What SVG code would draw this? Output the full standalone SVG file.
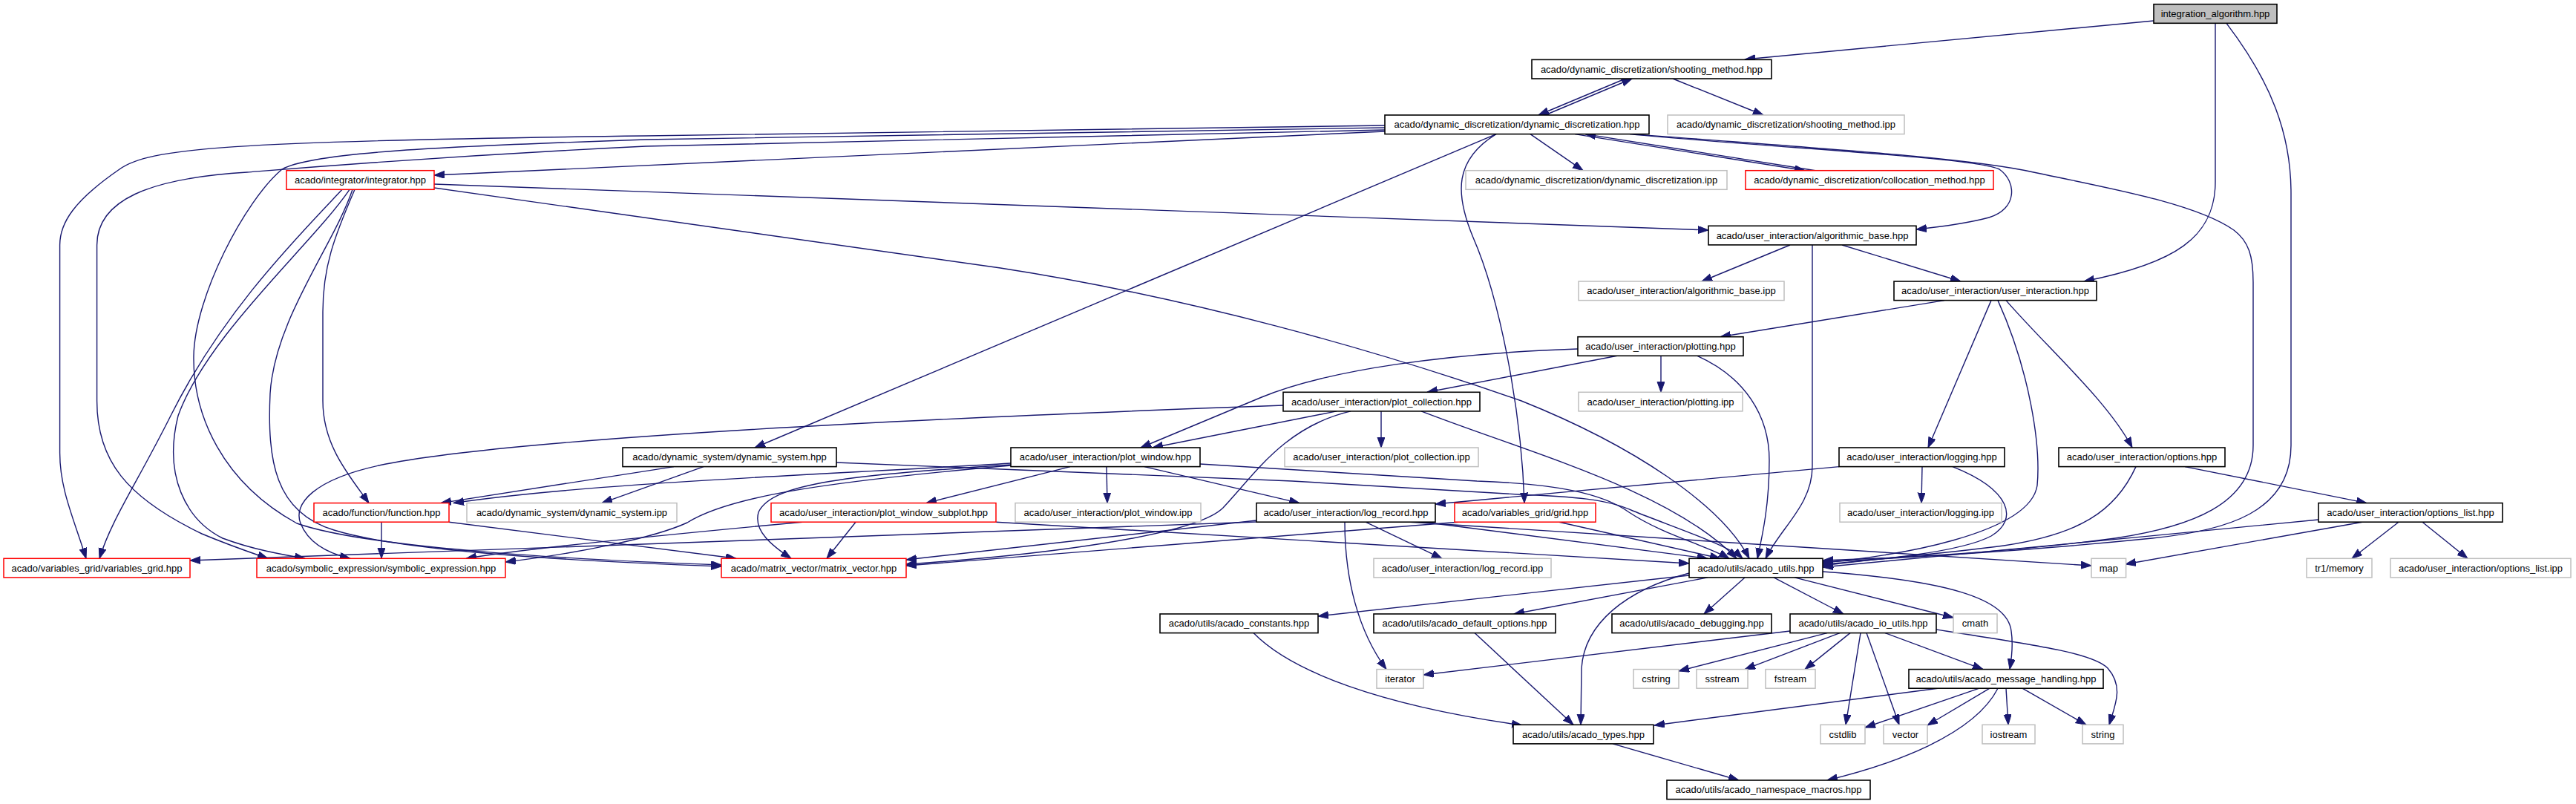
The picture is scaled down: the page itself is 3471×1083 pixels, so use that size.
<svg xmlns="http://www.w3.org/2000/svg" width="3471" height="1083" viewBox="0 0 3471 1083">
<defs>
<style>
.n rect{fill:#fff;stroke:#000;stroke-width:1.6}
.g rect{fill:#fff;stroke:#bfbfbf;stroke-width:1.5}
.r rect{fill:#fff;stroke:#ff0000;stroke-width:1.5}
.root rect{fill:#bfbfbf;stroke:#000;stroke-width:1.6}
text{font-family:"Liberation Sans",Arial,Helvetica,sans-serif;font-size:13px;text-anchor:middle;fill:#000}
.e{fill:none;stroke:#191970;stroke-width:1.4;marker-end:url(#arr)}
</style>
<marker id="arr" markerUnits="userSpaceOnUse" markerWidth="16" markerHeight="12" refX="14" refY="5" orient="auto">
<path d="M0,0 L14,5 L0,10 z" fill="#191970" stroke="#191970" stroke-width="1"/>
</marker>
</defs>
<rect width="3471" height="1083" fill="#fff"/>
<g id="edges">
<path class="e" d="M2902,28 L2351,80"/>
<path class="e" d="M2985,31.3 L2985,245 C2985,320 2930,355 2808,379"/>
<path class="e" d="M3000,31.3 C3060,110 3087,180 3087,260 L3087,600 C3087,690 3000,715 2900,725 C2700,745 2550,752 2456,757"/>
<path class="e" d="M2190,106 L2073,155"/>
<path class="e" d="M2254,106 L2376,155"/>
<path class="e" d="M2082,155 L2199,106"/>
<path class="e" d="M2062,180.6 L2133,229.7"/>
<path class="e" d="M2122,180.6 L2432,229.7"/>
<path class="e" d="M2446,229.7 L2136,180.6"/>
<path class="e" d="M2196,180.6 C2400,200 2660,212 2694,228 C2718,245 2718,282 2680,293 C2650,301 2620,305 2582,309"/>
<path class="e" d="M2201,180.6 C2450,200 2650,212 2740,232 C2850,255 2960,275 3010,310 C3030,325 3036,345 3036,380 L3036,600 C3036,680 2950,710 2850,725 C2700,745 2550,752 2456,755"/>
<path class="e" d="M1866,177 L585,236"/>
<path class="e" d="M1866,169 L870,183 C300,190 200,200 161,228 C100,270 80.6,300 80.6,330 L80.6,610 C80.6,660 100,700 116,752.3"/>
<path class="e" d="M1866,172 L870,188 C600,197 420,205 380,228 C330,270 262,400 261,480 C260,560 300,650 400,705 C500,740 800,755 972,761"/>
<path class="e" d="M1866,175 L870,197 C600,210 420,225 333,232 C200,240 130.6,270 130.6,330 L130.6,540 C130.6,620 170,670 272,719 C310,735 340,745 361,752.3"/>
<path class="e" d="M2016,180.6 L1017,603"/>
<path class="e" d="M2016,180.6 C1960,215 1960,260 1985,320 C2020,400 2050,550 2054,677.6"/>
<path class="e" d="M585,248 L2302,310"/>
<path class="e" d="M585,253 L1348,361 C1600,400 1850,470 2050,540 C2200,600 2320,680 2357,752.3"/>
<path class="e" d="M461,255.3 C400,320 300,420 230,560 C185,650 150,700 134,752.3"/>
<path class="e" d="M471,255.3 C420,330 280,450 240,560 C220,640 250,700 300,725 C340,740 380,747 411,752.3"/>
<path class="e" d="M475,255.3 C450,330 370,430 364,530 C360,620 370,690 450,714 C550,745 800,757 972,763"/>
<path class="e" d="M478,255.3 C450,320 435,360 435,420 L435,540 C435,600 470,640 497,677.6"/>
<path class="e" d="M2412,330 L2293,379"/>
<path class="e" d="M2442,330 L2442,628 C2442,680 2400,710 2379,752.3"/>
<path class="e" d="M2482,330 L2642,379"/>
<path class="e" d="M2620,404.6 L2318,453.7"/>
<path class="e" d="M2683,404.6 L2598,603"/>
<path class="e" d="M2692,404.6 C2735,500 2750,600 2745,654 C2735,720 2550,750 2456,758"/>
<path class="e" d="M2703,404.6 C2760,470 2840,540 2873,603"/>
<path class="e" d="M2238,479.3 L2238,528.3"/>
<path class="e" d="M2179,479.3 L1923,528.3"/>
<path class="e" d="M2126,470 C1950,476 1790,498 1700,535 C1640,560 1580,585 1537,603"/>
<path class="e" d="M2287,479.3 C2351,508 2384,560 2384,620 C2384,680 2375,720 2368,752.3"/>
<path class="e" d="M1861,553.9 L1861,603"/>
<path class="e" d="M1801,553.9 L1553,603"/>
<path class="e" d="M1915,553.9 C2060,610 2250,660 2340,752.3"/>
<path class="e" d="M1820,553.9 C1730,575 1690,640 1648,684 C1610,722 1400,748 1221,760"/>
<path class="e" d="M1729,546 C1200,565 700,590 520,625 C420,645 395,680 405,705 C415,730 440,745 472,752.3"/>
<path class="e" d="M1491,628.6 L1492,677.6"/>
<path class="e" d="M1442,628.6 L1248,677.6"/>
<path class="e" d="M1542,628.6 L1751,677.6"/>
<path class="e" d="M1362,624 C1100,640 800,650 611,677.6"/>
<path class="e" d="M1362,626 C1150,640 1040,650 1022,690 C1015,715 1040,735 1066,752.3"/>
<path class="e" d="M1362,627 C1100,650 980,670 926,704 C880,725 780,745 681,757"/>
<path class="e" d="M1617,625 L1990,648 C2100,652 2160,665 2195,690 C2240,720 2300,735 2330,752.3"/>
<path class="e" d="M1127,623 L1741,648 L2046,666 C2120,669 2165,672 2200,688 C2260,712 2330,735 2348,752.3"/>
<path class="e" d="M908,628.6 L594,677.6"/>
<path class="e" d="M948,628.6 L811,677.6"/>
<path class="e" d="M514,703.2 L514,752.3"/>
<path class="e" d="M605,703.2 L992,752.3"/>
<path class="e" d="M1081,703.2 C900,720 700,740 628,752.3"/>
<path class="e" d="M1153,703.2 L1114,752.3"/>
<path class="e" d="M1342,703.2 L2276,759"/>
<path class="e" d="M1812,703.2 C1812,780 1830,850 1868,901.6"/>
<path class="e" d="M1840,703.2 L1943,752.3"/>
<path class="e" d="M1918,703.2 L2301,752.3"/>
<path class="e" d="M1900,703.2 L2818,762"/>
<path class="e" d="M1693,701 L1221,754"/>
<path class="e" d="M1693,703 L256,755"/>
<path class="e" d="M1965,703.2 L1221,762"/>
<path class="e" d="M2101,703.2 L2318,752.3"/>
<path class="e" d="M2478,628.6 L1934,679"/>
<path class="e" d="M2590,628.6 L2589,677.6"/>
<path class="e" d="M2631,628.6 C2710,660 2720,700 2683,722 C2640,745 2520,755 2456,760"/>
<path class="e" d="M2944,628.6 L3189,677.6"/>
<path class="e" d="M2878,628.6 C2850,690 2800,720 2700,735 C2600,748 2500,755 2456,762"/>
<path class="e" d="M3124,700 C2900,722 2600,750 2456,764"/>
<path class="e" d="M3183,703.2 L2864,760"/>
<path class="e" d="M3232,703.2 L3169,752.3"/>
<path class="e" d="M3264,703.2 L3325,752.3"/>
<path class="e" d="M2276,775 L1776,830"/>
<path class="e" d="M2301,777.9 L2040,827"/>
<path class="e" d="M2351,777.9 L2296,827"/>
<path class="e" d="M2390,777.9 L2484,827"/>
<path class="e" d="M2418,777.9 L2632,832"/>
<path class="e" d="M2276,772 C2190,795 2135,840 2131,900 L2130,976.3"/>
<path class="e" d="M2456,770 C2620,782 2705,805 2710,850 C2713,870 2710,890 2708,901.6"/>
<path class="e" d="M2412,850 L1918,909"/>
<path class="e" d="M2462,852.6 L2262,904"/>
<path class="e" d="M2479,852.6 L2351,901.6"/>
<path class="e" d="M2493,852.6 L2432,901.6"/>
<path class="e" d="M2507,852.6 L2487,976.3"/>
<path class="e" d="M2515,852.6 L2559,976.3"/>
<path class="e" d="M2540,852.6 L2672,901.6"/>
<path class="e" d="M2609,848 C2750,870 2820,880 2840,900 C2862,925 2850,950 2842,976.3"/>
<path class="e" d="M2611,927.2 L2229,977"/>
<path class="e" d="M2667,927.2 L2513,980"/>
<path class="e" d="M2681,927.2 L2597,977"/>
<path class="e" d="M2692,927.2 C2660,990 2550,1030 2462,1051"/>
<path class="e" d="M2703,927.2 L2706,976.3"/>
<path class="e" d="M2725,927.2 L2811,976.3"/>
<path class="e" d="M2173,1001.9 L2343,1051"/>
<path class="e" d="M1689,852.6 C1740,905 1860,950 2051,977"/>
<path class="e" d="M1987,852.6 L2120,976.3"/>
</g>
<g id="n_ia" class="root"><rect x="2902" y="5.7" width="166" height="25.6"/><text x="2985" y="23.1">integration_algorithm.hpp</text></g>
<g id="n_sm" class="n"><rect x="2064" y="80.4" width="323" height="25.6"/><text x="2225.5" y="97.8">acado/dynamic_discretization/shooting_method.hpp</text></g>
<g id="n_dd" class="n"><rect x="1866" y="155" width="356" height="25.6"/><text x="2044" y="172.4">acado/dynamic_discretization/dynamic_discretization.hpp</text></g>
<g id="n_smipp" class="g"><rect x="2247" y="155" width="319" height="25.6"/><text x="2406.5" y="172.4">acado/dynamic_discretization/shooting_method.ipp</text></g>
<g id="n_int" class="r"><rect x="386" y="229.7" width="199" height="25.6"/><text x="485.5" y="247.1">acado/integrator/integrator.hpp</text></g>
<g id="n_ddipp" class="g"><rect x="1975" y="229.7" width="352" height="25.6"/><text x="2151" y="247.1">acado/dynamic_discretization/dynamic_discretization.ipp</text></g>
<g id="n_col" class="r"><rect x="2352" y="229.7" width="334" height="25.6"/><text x="2519" y="247.1">acado/dynamic_discretization/collocation_method.hpp</text></g>
<g id="n_ab" class="n"><rect x="2302" y="304.3" width="280" height="25.6"/><text x="2442" y="321.7">acado/user_interaction/algorithmic_base.hpp</text></g>
<g id="n_abipp" class="g"><rect x="2127" y="379" width="277" height="25.6"/><text x="2265.5" y="396.4">acado/user_interaction/algorithmic_base.ipp</text></g>
<g id="n_ui" class="n"><rect x="2552" y="379" width="273" height="25.6"/><text x="2688.5" y="396.4">acado/user_interaction/user_interaction.hpp</text></g>
<g id="n_plot" class="n"><rect x="2126" y="453.7" width="223" height="25.6"/><text x="2237.5" y="471.1">acado/user_interaction/plotting.hpp</text></g>
<g id="n_pc" class="n"><rect x="1729" y="528.3" width="265" height="25.6"/><text x="1861.5" y="545.7">acado/user_interaction/plot_collection.hpp</text></g>
<g id="n_plotipp" class="g"><rect x="2127" y="528.3" width="221" height="25.6"/><text x="2237.5" y="545.7">acado/user_interaction/plotting.ipp</text></g>
<g id="n_ds" class="n"><rect x="839" y="603" width="288" height="25.6"/><text x="983" y="620.4">acado/dynamic_system/dynamic_system.hpp</text></g>
<g id="n_pw" class="n"><rect x="1362" y="603" width="255" height="25.6"/><text x="1489.5" y="620.4">acado/user_interaction/plot_window.hpp</text></g>
<g id="n_pcipp" class="g"><rect x="1731" y="603" width="261" height="25.6"/><text x="1861.5" y="620.4">acado/user_interaction/plot_collection.ipp</text></g>
<g id="n_log" class="n"><rect x="2478" y="603" width="223" height="25.6"/><text x="2589.5" y="620.4">acado/user_interaction/logging.hpp</text></g>
<g id="n_opt" class="n"><rect x="2774" y="603" width="224" height="25.6"/><text x="2886" y="620.4">acado/user_interaction/options.hpp</text></g>
<g id="n_fn" class="r"><rect x="423" y="677.6" width="182" height="25.6"/><text x="514" y="695">acado/function/function.hpp</text></g>
<g id="n_dsipp" class="g"><rect x="629" y="677.6" width="283" height="25.6"/><text x="770.5" y="695">acado/dynamic_system/dynamic_system.ipp</text></g>
<g id="n_pws" class="r"><rect x="1039" y="677.6" width="303" height="25.6"/><text x="1190.5" y="695">acado/user_interaction/plot_window_subplot.hpp</text></g>
<g id="n_pwipp" class="g"><rect x="1368" y="677.6" width="250" height="25.6"/><text x="1493" y="695">acado/user_interaction/plot_window.ipp</text></g>
<g id="n_lr" class="n"><rect x="1693" y="677.6" width="241" height="25.6"/><text x="1813.5" y="695">acado/user_interaction/log_record.hpp</text></g>
<g id="n_grid" class="r"><rect x="1960" y="677.6" width="190" height="25.6"/><text x="2055" y="695">acado/variables_grid/grid.hpp</text></g>
<g id="n_logipp" class="g"><rect x="2479" y="677.6" width="218" height="25.6"/><text x="2588" y="695">acado/user_interaction/logging.ipp</text></g>
<g id="n_ol" class="n"><rect x="3124" y="677.6" width="248" height="25.6"/><text x="3248" y="695">acado/user_interaction/options_list.hpp</text></g>
<g id="n_vg" class="r"><rect x="5" y="752.3" width="251" height="25.6"/><text x="130.5" y="769.7">acado/variables_grid/variables_grid.hpp</text></g>
<g id="n_se" class="r"><rect x="346" y="752.3" width="335" height="25.6"/><text x="513.5" y="769.7">acado/symbolic_expression/symbolic_expression.hpp</text></g>
<g id="n_mv" class="r"><rect x="972" y="752.3" width="249" height="25.6"/><text x="1096.5" y="769.7">acado/matrix_vector/matrix_vector.hpp</text></g>
<g id="n_lripp" class="g"><rect x="1851" y="752.3" width="239" height="25.6"/><text x="1970.5" y="769.7">acado/user_interaction/log_record.ipp</text></g>
<g id="n_au" class="n"><rect x="2276" y="752.3" width="180" height="25.6"/><text x="2366" y="769.7">acado/utils/acado_utils.hpp</text></g>
<g id="n_map" class="g"><rect x="2818" y="752.3" width="46.6" height="25.6"/><text x="2841.3" y="769.7">map</text></g>
<g id="n_tr1" class="g"><rect x="3108" y="752.3" width="88" height="25.6"/><text x="3152" y="769.7">tr1/memory</text></g>
<g id="n_olipp" class="g"><rect x="3221" y="752.3" width="243" height="25.6"/><text x="3342.5" y="769.7">acado/user_interaction/options_list.ipp</text></g>
<g id="n_ac" class="n"><rect x="1563" y="827" width="213" height="25.6"/><text x="1669.5" y="844.4">acado/utils/acado_constants.hpp</text></g>
<g id="n_ado" class="n"><rect x="1851" y="827" width="245" height="25.6"/><text x="1973.5" y="844.4">acado/utils/acado_default_options.hpp</text></g>
<g id="n_adb" class="n"><rect x="2172" y="827" width="215" height="25.6"/><text x="2279.5" y="844.4">acado/utils/acado_debugging.hpp</text></g>
<g id="n_aio" class="n"><rect x="2412" y="827" width="197" height="25.6"/><text x="2510.5" y="844.4">acado/utils/acado_io_utils.hpp</text></g>
<g id="n_cmath" class="g"><rect x="2632" y="827" width="59" height="25.6"/><text x="2661.5" y="844.4">cmath</text></g>
<g id="n_iter" class="g"><rect x="1855" y="901.6" width="63" height="25.6"/><text x="1886.5" y="919">iterator</text></g>
<g id="n_cstring" class="g"><rect x="2201" y="901.6" width="61" height="25.6"/><text x="2231.5" y="919">cstring</text></g>
<g id="n_sstream" class="g"><rect x="2286" y="901.6" width="69" height="25.6"/><text x="2320.5" y="919">sstream</text></g>
<g id="n_fstream" class="g"><rect x="2379" y="901.6" width="67" height="25.6"/><text x="2412.5" y="919">fstream</text></g>
<g id="n_amh" class="n"><rect x="2572" y="901.6" width="262" height="25.6"/><text x="2703" y="919">acado/utils/acado_message_handling.hpp</text></g>
<g id="n_at" class="n"><rect x="2039" y="976.3" width="189" height="25.6"/><text x="2133.5" y="993.7">acado/utils/acado_types.hpp</text></g>
<g id="n_cstdlib" class="g"><rect x="2453" y="976.3" width="60" height="25.6"/><text x="2483" y="993.7">cstdlib</text></g>
<g id="n_vector" class="g"><rect x="2538" y="976.3" width="59" height="25.6"/><text x="2567.5" y="993.7">vector</text></g>
<g id="n_iostream" class="g"><rect x="2671" y="976.3" width="71" height="25.6"/><text x="2706.5" y="993.7">iostream</text></g>
<g id="n_string" class="g"><rect x="2806" y="976.3" width="55" height="25.6"/><text x="2833.5" y="993.7">string</text></g>
<g id="n_anm" class="n"><rect x="2246" y="1051" width="274" height="25.6"/><text x="2383" y="1068.4">acado/utils/acado_namespace_macros.hpp</text></g>
</svg>
